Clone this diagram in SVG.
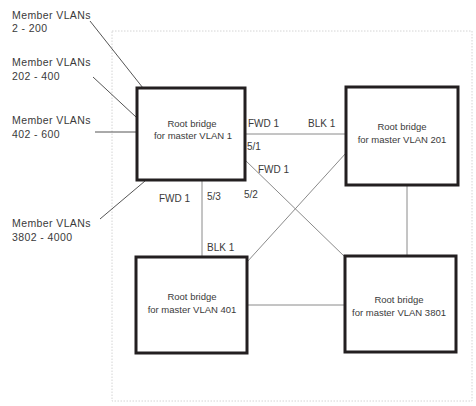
<svg xmlns="http://www.w3.org/2000/svg" width="476" height="406" viewBox="0 0 476 406">
<style>
.bg{fill:#fff}
.frame{fill:none;stroke:#d4d4d4;stroke-width:1;stroke-dasharray:1.5 1.5}
.node{fill:#fff;stroke:#231f20;stroke-width:3}
.edge{fill:none;stroke:#8a8a8a;stroke-width:1}
.lead{fill:none;stroke:#555;stroke-width:1}
text{font-family:"Liberation Sans",Arial,sans-serif;fill:#3a3a3a}
.nt{font-size:9.5px;text-anchor:middle}
.el{font-size:10px}
.ml{font-size:10.5px;letter-spacing:0.4px}
</style>
<rect class="bg" x="0" y="0" width="476" height="406"/>
<rect class="frame" x="112" y="31" width="360" height="370"/>
<g id="connectors">
<line class="edge" x1="245" y1="134" x2="346" y2="134"/>
<line class="edge" x1="245" y1="160" x2="345" y2="257"/>
<line class="edge" x1="346" y1="153" x2="247" y2="262"/>
<line class="edge" x1="202" y1="180" x2="202" y2="257"/>
<line class="edge" x1="247" y1="305" x2="345" y2="305"/>
<line class="edge" x1="407" y1="185" x2="407" y2="256"/>
<line class="lead" x1="90" y1="21" x2="143" y2="88"/>
<line class="lead" x1="93" y1="77" x2="136" y2="117"/>
<line class="lead" x1="95" y1="132" x2="137" y2="132"/>
<line class="lead" x1="100" y1="219" x2="145" y2="181"/>
</g>
<g id="edge-labels">
<text class="el" x="248" y="127">FWD 1</text>
<text class="el" x="308" y="127">BLK 1</text>
<text class="el" x="247" y="150">5/1</text>
<text class="el" x="258" y="173">FWD 1</text>
<text class="el" x="159" y="202">FWD 1</text>
<text class="el" x="207" y="200">5/3</text>
<text class="el" x="244" y="198">5/2</text>
<text class="el" x="207" y="251">BLK 1</text>
</g>
<g id="member-labels">
<text class="ml" x="12" y="19">Member VLANs</text>
<text class="ml" x="12" y="32">2 - 200</text>
<text class="ml" x="12" y="66">Member VLANs</text>
<text class="ml" x="12" y="80">202 - 400</text>
<text class="ml" x="12" y="124">Member VLANs</text>
<text class="ml" x="12" y="138">402 - 600</text>
<text class="ml" x="12" y="227">Member VLANs</text>
<text class="ml" x="12" y="241">3802 - 4000</text>
</g>
<g id="node-vlan1">
<rect class="node" x="137" y="88" width="108" height="92"/>
<text class="nt" x="192" y="127">Root bridge</text>
<text class="nt" x="193" y="139">for master VLAN 1</text>
</g>
<g id="node-vlan201">
<rect class="node" x="346" y="87" width="112" height="98"/>
<text class="nt" x="402" y="130">Root bridge</text>
<text class="nt" x="402" y="143">for master VLAN 201</text>
</g>
<g id="node-vlan401">
<rect class="node" x="136" y="257" width="111" height="96"/>
<text class="nt" x="192" y="300">Root bridge</text>
<text class="nt" x="192" y="313">for master VLAN 401</text>
</g>
<g id="node-vlan3801">
<rect class="node" x="345" y="256" width="111" height="96"/>
<text class="nt" x="399" y="303">Root bridge</text>
<text class="nt" x="399" y="316">for master VLAN 3801</text>
</g>
</svg>
